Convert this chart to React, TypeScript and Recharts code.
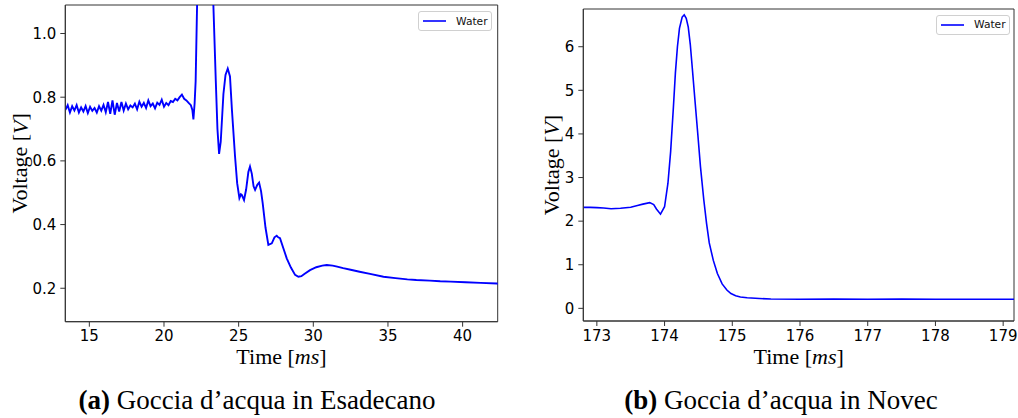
import React from "react"
import { LineChart, Line, XAxis, YAxis, Label, Legend, ReferenceArea } from "recharts"

// left panel: droplet in hexadecane
const esaTime = [
  13.4, 13.55, 13.7, 13.85, 14.0, 14.15, 14.3, 14.45, 14.6, 14.75, 14.9, 15.05, 15.2, 15.35, 15.5, 15.65,
  15.8, 15.95, 16.1, 16.25, 16.4, 16.55, 16.7, 16.85, 17.0, 17.15, 17.3, 17.45, 17.6, 17.75, 17.9, 18.05,
  18.2, 18.35, 18.5, 18.65, 18.8, 18.95, 19.1, 19.25, 19.4, 19.55, 19.7, 19.85, 20.0, 20.15, 20.3, 20.45,
  20.6, 20.75, 20.9, 21.05, 21.2, 21.35, 21.5, 21.65, 21.8, 21.9, 21.97, 22.05, 22.12, 22.2, 22.35, 22.7,
  23.1, 23.3, 23.47, 23.58, 23.69, 23.8, 23.98, 24.12, 24.27, 24.42, 24.55, 24.76, 24.9, 25.05, 25.15, 25.21,
  25.36, 25.5, 25.65, 25.76, 25.88, 26.0, 26.1, 26.25, 26.37, 26.5, 26.61, 26.8, 26.99, 27.22, 27.4, 27.55,
  27.65, 27.77, 28.0, 28.22, 28.5, 28.78, 29.0, 29.2, 29.4, 29.78, 30.2, 30.6, 30.9, 31.3, 31.6, 32.0,
  32.5, 33.1, 33.8, 34.7, 35.5, 36.3, 36.9, 37.8, 38.5, 39.2, 40.2, 41.2, 42.3, 42.4,
]
const esaVoltage = [
  0.76, 0.775, 0.752, 0.772, 0.758, 0.775, 0.752, 0.768, 0.755, 0.772, 0.75, 0.77, 0.757, 0.766, 0.752, 0.772,
  0.758, 0.776, 0.753, 0.785, 0.748, 0.79, 0.745, 0.782, 0.755, 0.785, 0.758, 0.78, 0.762, 0.774, 0.768, 0.78,
  0.762, 0.786, 0.77, 0.782, 0.766, 0.79, 0.772, 0.78, 0.765, 0.783, 0.776, 0.792, 0.77, 0.782, 0.775, 0.788,
  0.785, 0.795, 0.79, 0.8, 0.808, 0.795, 0.79, 0.782, 0.775, 0.76, 0.73, 0.78, 0.85, 1.05, 1.4, 1.6,
  1.45, 1.1, 0.85, 0.7, 0.622, 0.66, 0.81, 0.87, 0.89, 0.865, 0.76, 0.613, 0.53, 0.483, 0.495, 0.493,
  0.477, 0.51, 0.565, 0.582, 0.56, 0.52, 0.509, 0.525, 0.532, 0.505, 0.467, 0.39, 0.336, 0.341, 0.36, 0.365,
  0.36, 0.357, 0.325, 0.294, 0.265, 0.242, 0.236, 0.238, 0.245, 0.257, 0.266, 0.271, 0.273, 0.271, 0.268, 0.263,
  0.258, 0.252, 0.245, 0.236, 0.232, 0.228, 0.226, 0.224, 0.222, 0.221, 0.219, 0.217, 0.215, 0.214,
]
const esaXTicks = [15, 20, 25, 30, 35, 40]
const esaYTicks = [0.2, 0.4, 0.6, 0.8, 1.0]

// right panel: droplet in Novec
const novTime = [
  172.8, 172.9, 173.0, 173.1, 173.21, 173.35, 173.5, 173.6, 173.68, 173.78, 173.84, 173.88, 173.94, 174.0,
  174.05, 174.09, 174.13, 174.16, 174.19, 174.22, 174.26, 174.29, 174.32, 174.35, 174.38, 174.41, 174.45,
  174.49, 174.53, 174.58, 174.62, 174.66, 174.72, 174.78, 174.85, 174.92, 174.98, 175.05, 175.12, 175.22,
  175.4, 175.57, 176.0, 176.5, 177.0, 177.5, 178.0, 178.5, 179.0, 179.2,
]
const novVoltage = [
  2.316, 2.315, 2.31, 2.3, 2.285, 2.295, 2.32, 2.36, 2.39, 2.425, 2.38, 2.28, 2.16, 2.33,
  2.87, 3.6, 4.6, 5.4, 6.0, 6.42, 6.68, 6.73, 6.65, 6.45, 6.05, 5.5, 4.75,
  4.01, 3.25, 2.48, 1.95, 1.5, 1.1, 0.8, 0.56, 0.42, 0.34, 0.29, 0.26, 0.243,
  0.225, 0.213, 0.21, 0.212, 0.209, 0.211, 0.21, 0.21, 0.209, 0.209,
]
const novXTicks = [173, 174, 175, 176, 177, 178, 179]
const novYTicks = [0, 1, 2, 3, 4, 5, 6]

const seriesName = "Water"

const esaData = esaTime.map((t, i) => ({ t, v: esaVoltage[i] }))
const novData = novTime.map((t, i) => ({ t, v: novVoltage[i] }))

const serif = "'Liberation Serif', 'Times New Roman', serif"
const sans = "'DejaVu Sans', sans-serif"
const tickStyle = { fontSize: 15, fill: "#000", fontFamily: sans }
const spine = { stroke: "#333", strokeWidth: 1 }

const LegendBox = () => (
  <div
    style={{
      border: "1px solid #d0d0d0",
      borderRadius: 3,
      background: "#fff",
      height: 20,
      display: "flex",
      alignItems: "center",
      boxSizing: "border-box",
      fontFamily: sans,
      fontSize: 10.7,
      color: "#111",
    }}
  >
    <svg width={32} height={10} style={{ marginLeft: 3 }}>
      <line x1={1} x2={24} y1={5} y2={5} stroke="#0000ff" strokeWidth={1.6} />
    </svg>
    <span style={{ marginLeft: 2 }}>{seriesName}</span>
  </div>
)

const VoltageLabel = ({ x, y }: { x: number; y: number }) => (
  <text
    x={x}
    y={y}
    transform={`rotate(-90 ${x} ${y})`}
    textAnchor="middle"
    dominantBaseline="central"
    fontFamily={serif}
    fontSize={22}
    fill="#000"
  >
    Voltage [<tspan fontStyle="italic">V</tspan>]
  </text>
)

const TimeLabel = ({ x, y }: { x: number; y: number }) => (
  <text x={x} y={y} textAnchor="middle" fontFamily={serif} fontSize={22} fill="#000">
    Time [<tspan fontStyle="italic">ms</tspan>]
  </text>
)

const Panel = (props: {
  data: { t: number; v: number }[]
  width: number
  xDomain: [number, number]
  yDomain: [number, number]
  xTicks: number[]
  yTicks: number[]
  yFmt: (v: number) => string
  top: number
  bottomY: number
  right: number
  yAxisW: number
  labelX: number
  legendLeft: number
  legendTop: number
  strokeW: number
}) => {
  const height = 374
  const xAxisH = height - props.bottomY
  const plotLeft = props.yAxisW
  const plotRight = props.width - props.right
  return (
    <LineChart
      width={props.width}
      height={height}
      data={props.data}
      margin={{ top: props.top, right: props.right, left: 0, bottom: 0 }}
    >
      <XAxis
        dataKey="t"
        type="number"
        domain={props.xDomain}
        ticks={props.xTicks}
        allowDataOverflow
        height={xAxisH}
        tickSize={5}
        tickMargin={4}
        tick={tickStyle}
        axisLine={spine}
        tickLine={spine}
      >
        <Label content={() => <TimeLabel x={(plotLeft + plotRight) / 2} y={364} />} />
      </XAxis>
      <YAxis
        type="number"
        domain={props.yDomain}
        ticks={props.yTicks}
        allowDataOverflow
        width={props.yAxisW}
        tickSize={5}
        tickMargin={4}
        tick={tickStyle}
        tickFormatter={props.yFmt}
        axisLine={spine}
        tickLine={spine}
      >
        <Label content={() => <VoltageLabel x={props.labelX} y={(props.top + props.bottomY) / 2} />} />
      </YAxis>
      <ReferenceArea
        x1={props.xDomain[0]}
        x2={props.xDomain[1]}
        y1={props.yDomain[0]}
        y2={props.yDomain[1]}
        fill="none"
        stroke="#333"
        strokeWidth={1}
        ifOverflow="visible"
      />
      <Legend
        layout="horizontal"
        verticalAlign="middle"
        align="center"
        content={() => <LegendBox />}
        wrapperStyle={{ top: props.legendTop, left: props.legendLeft, width: 74, height: 20 }}
      />
      <Line
        dataKey="v"
        name={seriesName}
        stroke="#0000ff"
        strokeWidth={props.strokeW}
        dot={false}
        type="linear"
        isAnimationActive={false}
      />
    </LineChart>
  )
}

const captionStyle: React.CSSProperties = {
  position: "absolute",
  top: 385,
  fontFamily: serif,
  fontSize: 27,
  color: "#000",
  whiteSpace: "nowrap",
  transform: "translateX(-50%)",
}

export default function App() {
  return (
    <div style={{ position: "absolute", left: 0, top: 0, width: 1018, height: 418, background: "#fff" }}>
      <div style={{ position: "absolute", left: 0, top: 0 }}>
        <Panel
          data={esaData}
          width={520}
          xDomain={[13.39, 42.35]}
          yDomain={[0.095, 1.0895]}
          xTicks={esaXTicks}
          yTicks={esaYTicks}
          yFmt={(v) => v.toFixed(1)}
          top={5}
          bottomY={321.7}
          right={22.3}
          yAxisW={65.3}
          labelX={20}
          legendLeft={418}
          legendTop={11}
          strokeW={1.9}
        />
      </div>
      <div style={{ position: "absolute", left: 500, top: 0 }}>
        <Panel
          data={novData}
          width={518}
          xDomain={[172.8, 179.16]}
          yDomain={[-0.29, 6.865]}
          xTicks={novXTicks}
          yTicks={novYTicks}
          yFmt={(v) => String(v)}
          top={9}
          bottomY={321}
          right={4}
          yAxisW={83.3}
          labelX={51}
          legendLeft={436}
          legendTop={14.5}
          strokeW={1.6}
        />
      </div>
      <div style={{ ...captionStyle, left: 257 }}>
        <b>(a)</b> Goccia d’acqua in Esadecano
      </div>
      <div style={{ ...captionStyle, left: 781 }}>
        <b>(b)</b> Goccia d’acqua in Novec
      </div>
    </div>
  )
}
